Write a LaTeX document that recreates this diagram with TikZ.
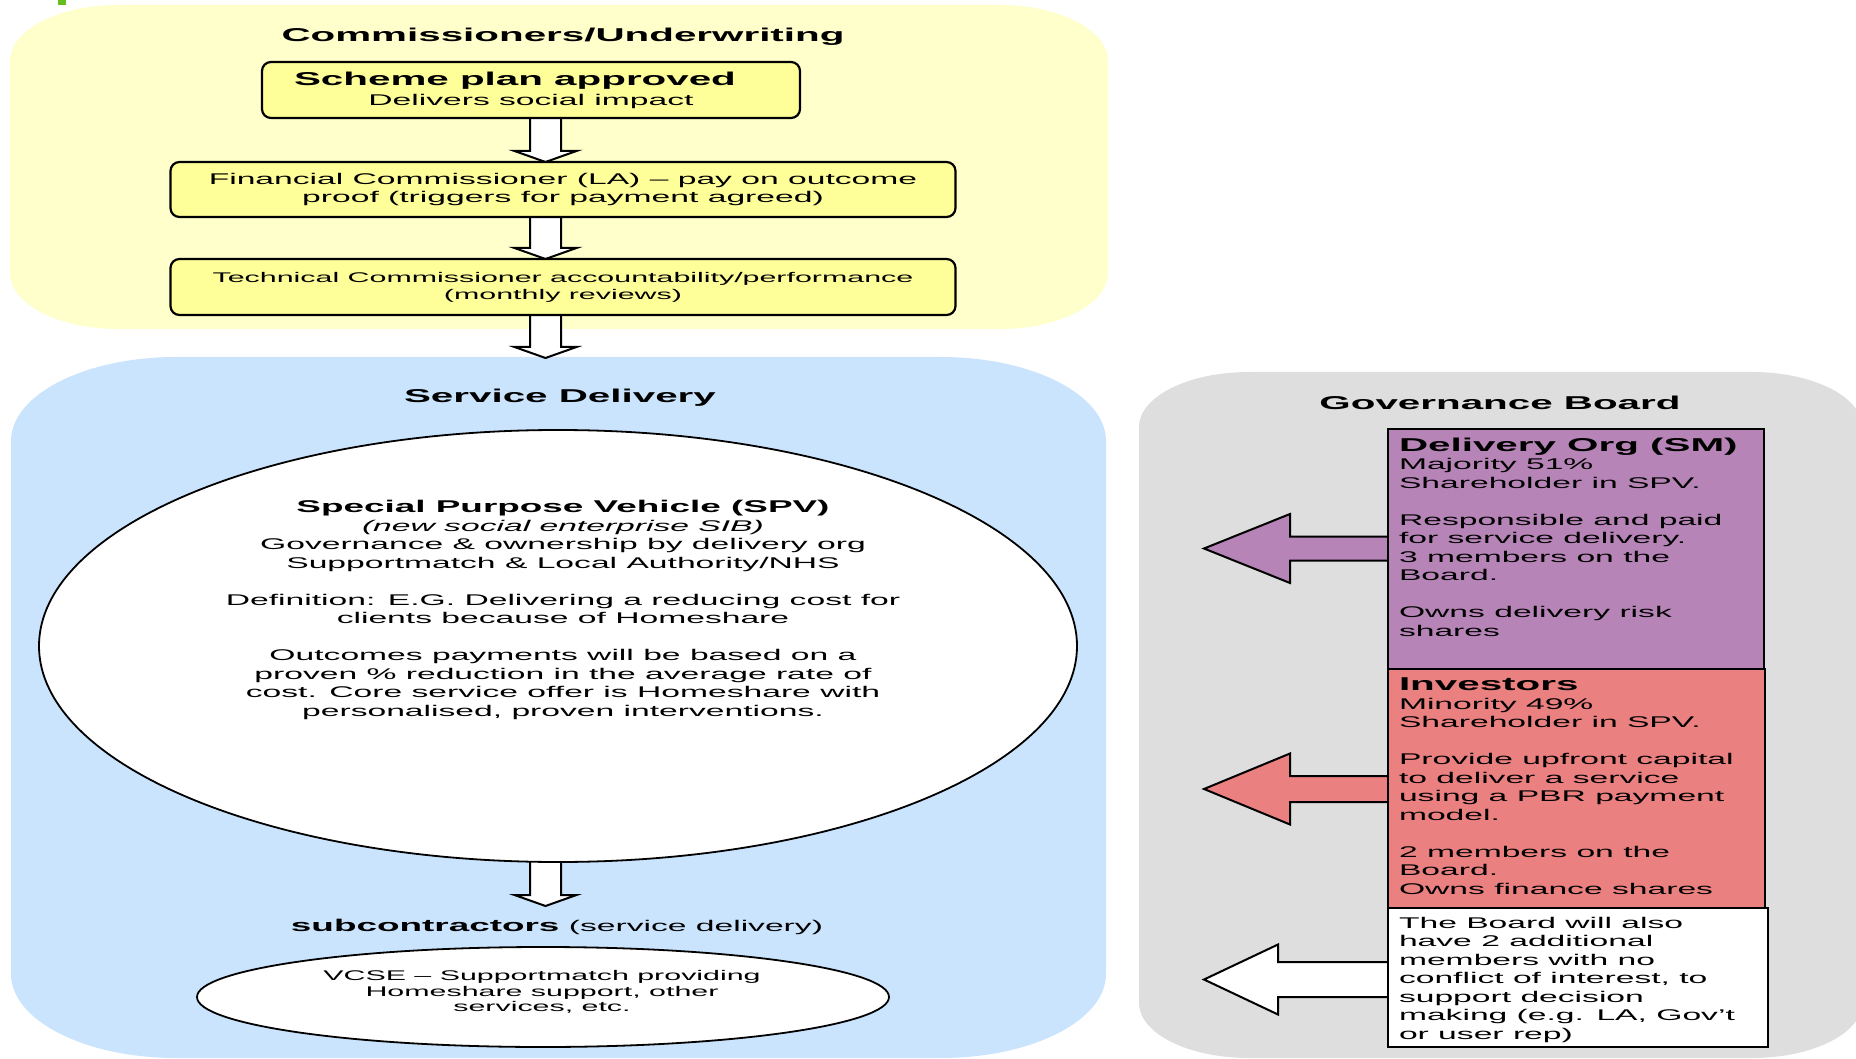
\documentclass[tikz,border=0pt]{standalone}
\usepackage{fontspec}
\setmainfont{Liberation Sans}[FakeStretch=2.17]
\usetikzlibrary{shapes.geometric,calc}
\definecolor{yreg}{RGB}{255,255,204}
\definecolor{yfill}{RGB}{255,255,153}
\definecolor{breg}{RGB}{203,228,253}
\definecolor{greg}{RGB}{222,222,222}
\definecolor{purp}{RGB}{183,132,183}
\definecolor{salm}{RGB}{235,128,128}
\definecolor{gmark}{RGB}{100,190,30}
\pgfdeclarelayer{bg}
\pgfdeclarelayer{arr}
\pgfsetlayers{bg,arr,main}
\newcommand{\softbox}[7]{%
 \pgfmathsetmacro{\sbA}{#2+#6}\pgfmathsetmacro{\sbB}{#4-#6}%
 \pgfmathsetmacro{\sbC}{#3+#7}\pgfmathsetmacro{\sbD}{#5-#7}%
 \pgfmathsetmacro{\sbkx}{0.5523*#6}\pgfmathsetmacro{\sbky}{0.5523*#7}%
 \fill[#1] (\sbA,#3) -- (\sbB,#3) .. controls ({\sbB+\sbkx},#3) and (#4,{\sbC-\sbky}) .. (#4,\sbC)
   -- (#4,\sbD) .. controls (#4,{\sbD+\sbky}) and ({\sbB+\sbkx},#5) .. (\sbB,#5)
   -- (\sbA,#5) .. controls ({\sbA-\sbkx},#5) and (#2,{\sbD+\sbky}) .. (#2,\sbD)
   -- (#2,\sbC) .. controls (#2,{\sbC-\sbky}) and ({\sbA-\sbkx},#3) .. (\sbA,#3) -- cycle;}
\newcommand{\downblock}[2]{%
 \draw[blk, fill=white] let \p1=(#1), \p2=(#2) in
   (\x2-15.5pt,\y1) -- (\x2-15.5pt,\y2+11pt) -- (\x2-31pt,\y2+11pt) -- (\x2,\y2)
   -- (\x2+31pt,\y2+11pt) -- (\x2+15.5pt,\y2+11pt) -- (\x2+15.5pt,\y1);}
\newcommand{\leftblock}[6]{%
 \draw[blk, fill=#1] let \p1=(#2.west |- #3), \p2=(#3) in
   (\x1,\y1+#5) -- (\x2+#4,\y1+#5) -- (\x2+#4,\y1+#6) -- (\x2,\y2)
   -- (\x2+#4,\y1-#6) -- (\x2+#4,\y1-#5) -- (\x1,\y1-#5);}
\newcommand{\hdfont}{\bfseries\fontsize{18.6}{22}\selectfont}
\tikzset{
 ttl/.style={inner sep=0pt, outer sep=0pt, font=\hdfont},
 body/.style={font=\fontsize{15.5}{18.5}\selectfont},
 ybox/.style={draw=black, line width=2.2pt, fill=yfill, rounded corners=9pt, inner sep=0pt, outer sep=0pt, align=center, body},
 gbox/.style={draw=black, line width=2pt, inner sep=0pt, outer sep=0pt},
 gtext/.style={inner sep=0pt, outer sep=0pt, anchor=north west, align=left, body},
 oval/.style={ellipse, draw=black, line width=1.8pt, fill=white, inner sep=0pt, outer sep=0pt},
 blk/.style={draw=black, line width=2pt, line join=miter},
}
\begin{document}
\begin{tikzpicture}[x=1pt, y=-1pt]
\useasboundingbox (0,0) rectangle (1856,1059);
% coordinates
\coordinate (ax) at (545.5,0);
\coordinate (bluetop) at (545.5,358);
\coordinate (subtip) at (545.5,906);
\coordinate (tipA) at (1204,548.5);
\coordinate (tipB) at (1204,789);
\coordinate (tipC) at (1204,979.5);
% commissioners
\node[ttl] (hcomm) at (563,37) {Commissioners/Underwriting};
\node[ybox, minimum width=538pt, minimum height=56pt] (scheme) at (531,90)
  {{\hdfont Scheme plan approved}\rule{32pt}{0pt}\\[1.5pt]Delivers social impact};
\node[ybox, minimum width=785pt, minimum height=55pt] (fin) at (563,189.5)
  {Financial Commissioner (LA) – pay on outcome\\proof (triggers for payment agreed)};
\node[ybox, minimum width=785pt, minimum height=56pt, font=\fontsize{14}{17}\selectfont] (tech) at (563,287)
  {Technical Commissioner accountability/performance\\(monthly reviews)};
% service delivery
\node[ttl] (hserv) at (560,398) {Service Delivery};
\node[oval, minimum width=1038pt, minimum height=432pt] (spv) at (558,646) {};
\node[body, align=center, inner sep=0pt] (spvtext) at (563,610)
  {{\bfseries\fontsize{17}{20}\selectfont Special Purpose Vehicle (SPV)}\\
   {\itshape (new social enterprise SIB)}\\
   Governance \& ownership by delivery org\\
   Supportmatch \& Local Authority/NHS\\[18.5pt]
   Definition: E.G. Delivering a reducing cost for\\
   clients because of Homeshare\\[18.5pt]
   Outcomes payments will be based on a\\
   proven \% reduction in the average rate of\\
   cost. Core service offer is Homeshare with\\
   personalised, proven interventions.};
\node[body, inner sep=0pt] (sub) at (557,927)
  {{\bfseries\fontsize{17}{20}\selectfont subcontractors} (service delivery)};
\node[oval, minimum width=692pt, minimum height=100pt] (vcse) at (543,997) {};
\node[align=center, inner sep=0pt, font=\fontsize{14}{15.5}\selectfont] (vcsetext) at (542,992)
  {VCSE – Supportmatch providing\\Homeshare support, other\\services, etc.};
% governance
\node[ttl] (hgov) at (1500,403) {Governance Board};
\node[gbox, fill=purp, minimum width=376pt, minimum height=240pt] (dorg) at (1576,549) {};
\node[gbox, fill=salm, minimum width=377pt, minimum height=239pt] (inv) at (1576.5,788.5) {};
\node[gbox, fill=white, minimum width=380pt, minimum height=139pt] (brd) at (1578,977.5) {};
\node[gtext] (dorgt) at (1399,438)
  {{\hdfont Delivery Org (SM)}\\Majority 51\%\\Shareholder in SPV.\\[18.5pt]
   Responsible and paid\\for service delivery.\\3 members on the\\Board.\\[18.5pt]Owns delivery risk\\shares};
\node[gtext] (invt) at (1399,678)
  {{\hdfont Investors}\\Minority 49\%\\Shareholder in SPV.\\[18.5pt]
   Provide upfront capital\\to deliver a service\\using a PBR payment\\model.\\[18.5pt]
   2 members on the\\Board.\\Owns finance shares};
\node[gtext] (brdt) at (1399,917)
  {The Board will also\\have 2 additional\\members with no\\conflict of interest, to\\support decision\\making (e.g. LA, Gov’t\\or user rep)};
% regions
\begin{pgfonlayer}{bg}
\softbox{yreg}{10}{5}{1108}{329}{108}{56}
\softbox{breg}{11}{357}{1106}{1058}{165}{84}
\softbox{greg}{1139}{372}{1862}{1058}{110}{55}
\fill[gmark] (58,0) rectangle (66,5);
\end{pgfonlayer}
% arrows
\begin{pgfonlayer}{arr}
\downblock{scheme.south -| ax}{fin.north -| ax}
\downblock{fin.south -| ax}{tech.north -| ax}
\downblock{tech.south -| ax}{bluetop}
\downblock{spv.south -| ax}{subtip}
\leftblock{purp}{dorg}{tipA}{86pt}{12pt}{34.5pt}
\leftblock{salm}{inv}{tipB}{86pt}{13pt}{35.5pt}
\leftblock{white}{brd}{tipC}{74pt}{17.5pt}{35pt}
\end{pgfonlayer}
\end{tikzpicture}
\end{document}
